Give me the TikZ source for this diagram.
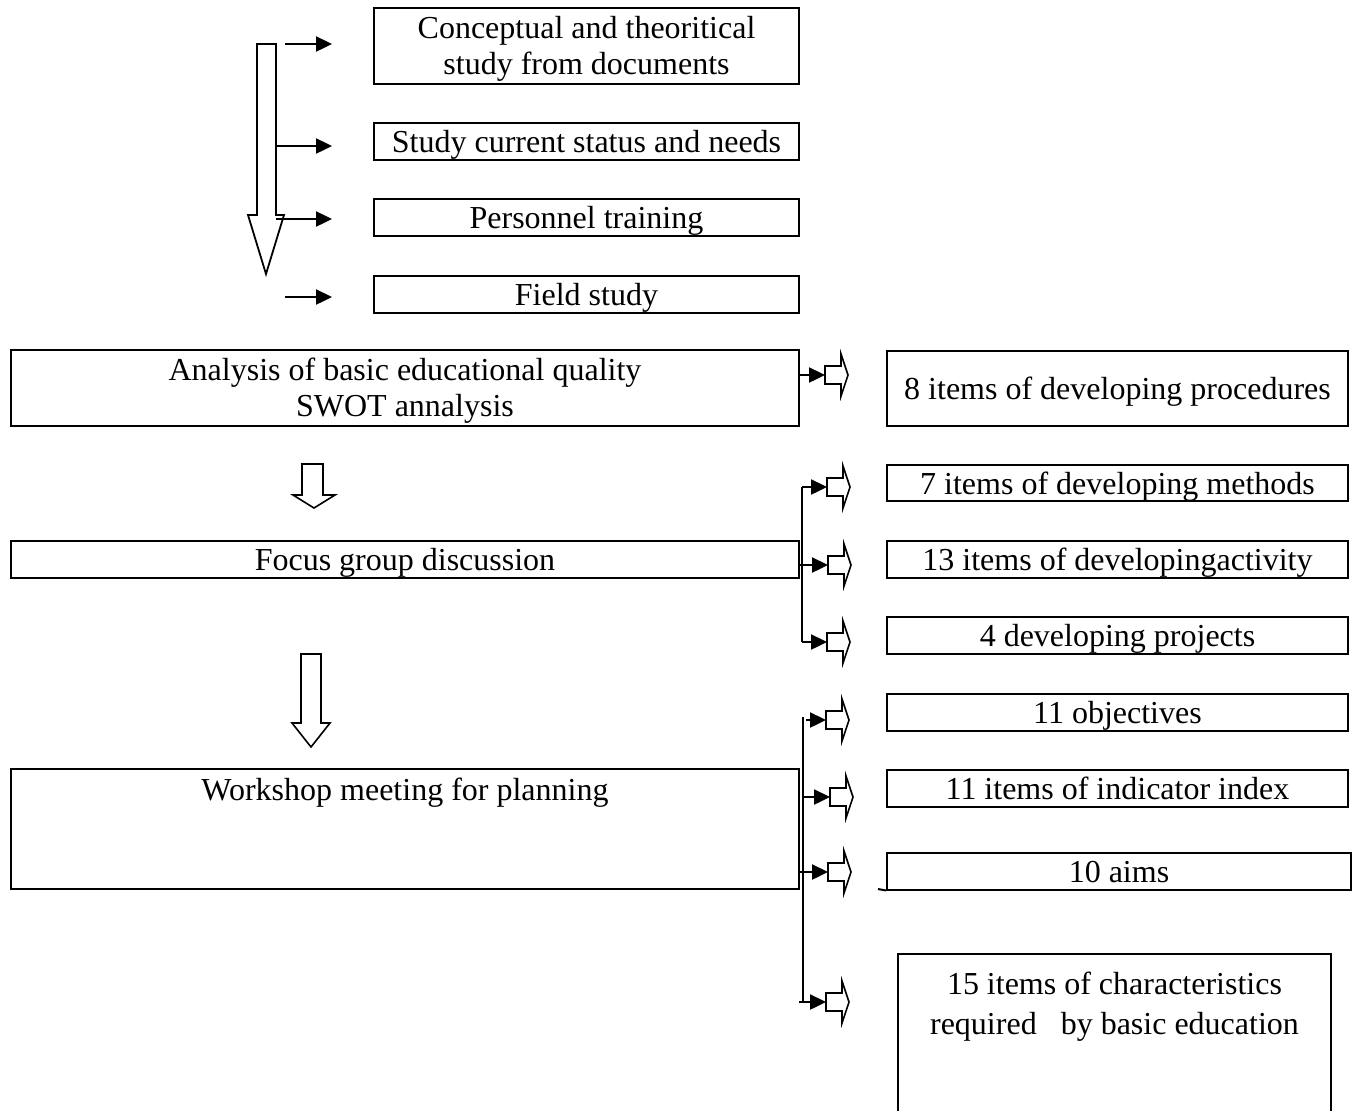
\documentclass[tikz,border=0pt]{standalone}
\usepackage{fontspec}
\setmainfont{Liberation Serif}
\usetikzlibrary{arrows.meta}
\newcommand\lowtwo[1]{\raisebox{-1.75pt}[\height][\depth]{\begin{tabular}{@{}c@{}}#1\end{tabular}}}
\begin{document}
\begin{tikzpicture}[x=0.5pt,y=-0.5pt,
  mbox/.style={draw, line width=1pt, inner sep=0pt, align=center, font=\fontsize{16}{17.8}\selectfont},
  sbox/.style={mbox, text height=14.5pt, text depth=3.5pt},
  txt/.style={inner sep=0pt, align=center, font=\fontsize{16}{17.8}\selectfont},
  arr/.style={line width=1.2pt, -{Triangle[length=8pt,width=7.5pt]}},
  ln/.style={line width=1.2pt},
  hol/.style={draw, line width=0.8pt, fill=white, line join=miter},
  hollowr/.pic={\draw[hol] (0,-9) -- (16,-9) -- (16,-21) -- (23,0) -- (16,21) -- (16,9) -- (0,9) -- cycle;}]
\useasboundingbox (0,0) rectangle (1356,1110);

% left column boxes
\node[mbox, minimum width=212.5pt, minimum height=38pt] (b1) at (586.5,46) {\lowtwo{Conceptual and theoritical\\study from documents}};
\node[sbox, minimum width=212.5pt, minimum height=18.5pt] (b2) at (586.5,141.5) {Study current status and needs};
\node[sbox, minimum width=212.5pt, minimum height=18.5pt] (b3) at (586.5,217.5) {Personnel training};
\node[sbox, minimum width=212.5pt, minimum height=18.5pt] (b4) at (586.5,294.5) {Field study};
\node[mbox, minimum width=394pt, minimum height=38pt] (b5) at (405,388) {\lowtwo{Analysis of basic educational quality\\SWOT annalysis}};
\node[sbox, minimum width=394pt, minimum height=18.5pt] (b6) at (405,559.5) {Focus group discussion};
\node[draw, line width=1pt, inner sep=0pt, minimum width=394pt, minimum height=60pt] (b7) at (405,829) {};
\node[txt] (b7t) at (405,792.5) {Workshop meeting for planning};

% right column boxes
\node[sbox, minimum width=230.5pt, minimum height=37.5pt] (r1) at (1117.5,388.5) {8 items of developing procedures};
\node[sbox, minimum width=230.5pt, minimum height=18pt] (r2) at (1117.5,483) {7 items of developing methods};
\node[sbox, minimum width=230.5pt, minimum height=18.5pt] (r3) at (1117.5,559.5) {13 items of developingactivity};
\node[sbox, minimum width=230.5pt, minimum height=18.5pt] (r4) at (1117.5,635.5) {4 developing projects};
\node[sbox, minimum width=230.5pt, minimum height=18.5pt] (r5) at (1117.5,712.5) {11 objectives};
\node[sbox, minimum width=230.5pt, minimum height=18.5pt] (r6) at (1117.5,788.5) {11 items of indicator index};
\node[sbox, minimum width=232pt, minimum height=18.5pt] (r7) at (1119,871) {10 aims};
\coordinate (r7x) at (878,889);
\draw[line width=1pt] (r7x) -- (r7.south west);
\node[txt, font=\fontsize{16}{20}\selectfont] (r8t) at (1114.5,1007) {15 items of characteristics\\required\ \ \ by basic education};
\coordinate (r8a) at (898,1115);
\coordinate (r8b) at (898,954);
\coordinate (r8c) at (1331,954);
\coordinate (r8d) at (1331,1115);
\draw[line width=1pt] (r8a) -- (r8b) -- (r8c) -- (r8d);

% big hollow down arrows
\draw[hol, line width=0.9pt] (257,44) -- (276,44) -- (276,215) -- (284,215) -- (266,274) -- (248,215) -- (257,215) -- cycle;
\draw[hol] (302,464) -- (323,464) -- (323,495) -- (335,495) -- (314,508) -- (293,495) -- (302,495) -- cycle;
\draw[hol] (301,654) -- (321,654) -- (321,723) -- (330,723) -- (311,747) -- (292,723) -- (301,723) -- cycle;

% top-left small arrows
\coordinate (t1s) at (285,44);  \coordinate (t1e) at (332,44);
\coordinate (t2s) at (276,146); \coordinate (t2e) at (332,146);
\coordinate (t3s) at (276,219); \coordinate (t3e) at (332,219);
\coordinate (t4s) at (285,297); \coordinate (t4e) at (332,297);
\draw[arr] (t1s) -- (t1e);
\draw[arr] (t2s) -- (t2e);
\draw[arr] (t3s) -- (t3e);
\draw[arr] (t4s) -- (t4e);

% right hollow arrows
\coordinate (ha0) at (825,375);
\coordinate (ha1) at (827,487);
\coordinate (ha2) at (828,565);
\coordinate (ha3) at (827,642);
\coordinate (hb1) at (826,720);
\coordinate (hb2) at (830,797);
\coordinate (hb3) at (828,872);
\coordinate (hb4) at (826,1002);
\foreach \c in {ha0,ha1,ha2,ha3,hb1,hb2,hb3,hb4} {\pic at (\c) {hollowr};}

% connectors
\draw[arr] (b5.east |- ha0) -- (ha0);

\coordinate (j1a) at (802,487);
\coordinate (j1c) at (802,642);
\draw[ln] (j1a) -- (j1c);
\draw[arr] (j1a) -- (ha1);
\draw[arr] (b6.east |- ha2) -- (ha2);
\draw[arr] (j1c) -- (ha3);

\coordinate (j2a) at (803,717);
\coordinate (j2d) at (803,1002);
\coordinate (j2s) at (806,720);
\coordinate (j2b) at (803,797);
\coordinate (j2e) at (799,1002);
\draw[ln] (j2a) -- (j2d);
\draw[arr] (j2s) -- (hb1);
\draw[arr] (j2b) -- (hb2);
\draw[arr] (b7.east |- hb3) -- (hb3);
\draw[arr] (j2e) -- (hb4);
\end{tikzpicture}
\end{document}
